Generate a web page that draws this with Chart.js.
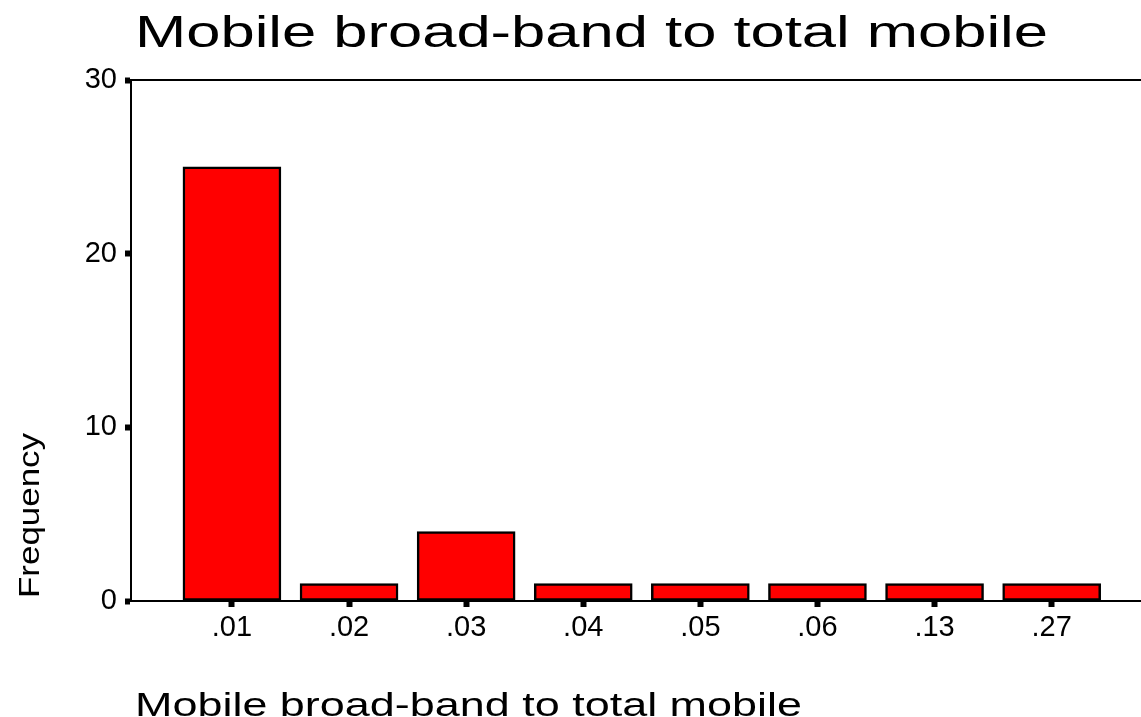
<!DOCTYPE html>
<html>
<head>
<meta charset="utf-8">
<script src="https://cdn.jsdelivr.net/npm/chart.js@4"></script>
<style>
  html, body { margin: 0; padding: 0; background: #fff; }
  #wrap { width: 1141px; height: 717px; }
</style>
</head>
<body>
<div id="wrap"><canvas id="freqChart"></canvas></div>
<script>
const chartTitle = 'Mobile broad-band to total mobile';
const xTitle = 'Mobile broad-band to total mobile';
const yTitle = 'Frequency';
const categories = ['.01', '.02', '.03', '.04', '.05', '.06', '.13', '.27'];
const frequencies = [25, 1, 4, 1, 1, 1, 1, 1];
const yTicks = [0, 10, 20, 30];

const FONT = '"Liberation Sans", Arial, sans-serif';

// text in the reference is wide, so stretch it horizontally to fit
function drawWide(ctx, text, x, y, width, size, rotate) {
    ctx.save();
    ctx.font = `${size}px ${FONT}`;
    ctx.fillStyle = '#000';
    ctx.textBaseline = 'alphabetic';
    const w = ctx.measureText(text).width;
    ctx.translate(x, y);
    if (rotate) ctx.rotate(-Math.PI / 2);
    ctx.scale(width / w, 1);
    ctx.fillText(text, 0, 0);
    ctx.restore();
}

const frame = {
    id: 'frame',
    afterDraw(chart) {
        const { ctx, chartArea } = chart;
        ctx.save();
        ctx.strokeStyle = '#000';
        ctx.lineWidth = 2;
        ctx.beginPath();
        ctx.moveTo(chartArea.left, chartArea.top);
        ctx.lineTo(chartArea.right, chartArea.top);
        ctx.stroke();
        ctx.restore();
        drawWide(ctx, chartTitle, 135, 47, 913, 45);
        drawWide(ctx, xTitle, 135, 716, 667, 33);
        drawWide(ctx, yTitle, 39, 598, 165, 30, true);
    }
};

const ctx = document.getElementById('freqChart').getContext('2d');
const freqChart = new Chart(ctx, {
    type: 'bar',
    data: {
        datasets: [{
            data: frequencies.map((v, i) => ({ x: i, y: v })),
            backgroundColor: '#ff0000',
            borderColor: '#000',
            borderWidth: 2.5,
            borderSkipped: false,
            barThickness: 98
        }]
    },
    options: {
        responsive: true,
        maintainAspectRatio: false,
        animation: false,
        layout: { padding: { top: 80, left: 0, right: 0, bottom: 0 } },
        plugins: {
            legend: { display: false },
            tooltip: { enabled: false }
        },
        scales: {
            x: {
                type: 'linear',
                offset: false,
                min: -0.862,
                max: 7.763,
                afterBuildTicks: (scale) => {
                    scale.ticks = categories.map((c, i) => ({ value: i }));
                },
                afterFit: (scale) => { scale.height = 116; },
                ticks: {
                    callback: (v) => categories[v],
                    color: '#000',
                    font: { family: FONT, size: 29 },
                    padding: 4,
                    maxRotation: 0,
                    autoSkip: false
                },
                grid: {
                    offset: false,
                    drawOnChartArea: false,
                    tickLength: 6,
                    tickWidth: 6,
                    tickColor: '#000'
                },
                border: { color: '#000', width: 2 }
            },
            y: {
                min: 0,
                max: 30,
                afterBuildTicks: (scale) => {
                    scale.ticks = yTicks.map(v => ({ value: v }));
                },
                afterFit: (scale) => { scale.width = 131; },
                ticks: {
                    color: '#000',
                    font: { family: FONT, size: 29 },
                    padding: 8
                },
                grid: {
                    drawOnChartArea: false,
                    tickLength: 6,
                    tickWidth: 6,
                    tickColor: '#000'
                },
                border: { color: '#000', width: 2 }
            }
        }
    },
    plugins: [frame]
});
</script>
</body>
</html>
